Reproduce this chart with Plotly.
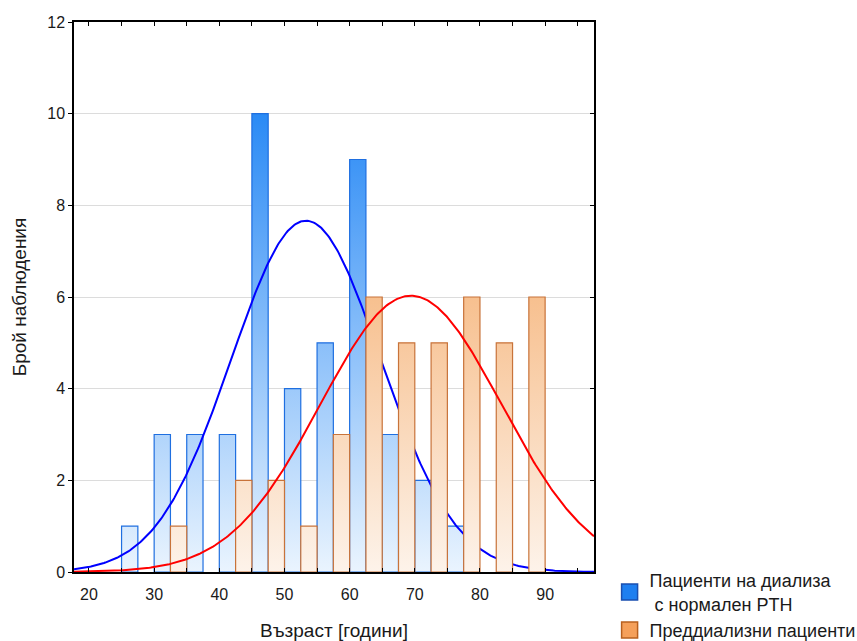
import numpy as np
import plotly.graph_objects as go

# ---- data ----
bin_starts = [20, 25, 30, 35, 40, 45, 50, 55, 60, 65, 70, 75, 80, 85]
blue_counts = [0, 1, 3, 3, 3, 10, 4, 5, 9, 3, 2, 1, 0, 0]
orange_counts = [0, 0, 1, 0, 2, 2, 1, 3, 6, 5, 5, 6, 5, 6]
bin_width = 5

blue_name = "Пациенти на диализа<br>\u00a0с нормален PTH"
orange_name = "Преддиализни пациенти"

# fitted normal curves (mean, sd)
blue_mean, blue_sd = 53.3, 11.45
orange_mean, orange_sd = 69.4, 13.9

x_range = [17.7, 97.5]
y_range = [0, 12]
x_ticks = [20, 30, 40, 50, 60, 70, 80, 90]
y_ticks = [0, 2, 4, 6, 8, 10, 12]


def bar_polys(starts, counts, offset, width):
    xs, ys = [], []
    for s, c in zip(starts, counts):
        if c <= 0:
            continue
        x0 = s + offset
        x1 = x0 + width
        xs += [x0, x0, x1, x1, x0, None]
        ys += [0, c, c, 0, 0, None]
    return xs, ys


def normal_curve(mean, sd, n, xs):
    return n * bin_width * np.exp(-0.5 * ((xs - mean) / sd) ** 2) / (sd * np.sqrt(2 * np.pi))


xc = np.linspace(x_range[0], x_range[1], 400)
n_blue = sum(blue_counts)
n_orange = sum(orange_counts)

fig = go.Figure()

# legend entries (box swatches)
fig.add_trace(go.Scatter(
    x=[None], y=[None], name=blue_name, mode="markers",
    marker=dict(symbol="square", size=18, color="#1e7ff0",
                line=dict(color="#1a4fb0", width=1.5)),
))
fig.add_trace(go.Scatter(
    x=[None], y=[None], name=orange_name, mode="markers",
    marker=dict(symbol="square", size=18, color="#f5a05a",
                line=dict(color="#b8601e", width=1.5)),
))

bx, by = bar_polys(bin_starts, blue_counts, 0, bin_width / 2)
fig.add_trace(go.Scatter(
    x=bx, y=by, mode="lines", fill="toself", name=blue_name, showlegend=False,
    line=dict(color="#1f6fe0", width=1.2),
    fillgradient=dict(type="vertical", start=0, stop=10,
                      colorscale=[[0, "#eaf4fe"], [1, "#2a8af5"]]),
    hoverinfo="skip",
))
fig.add_trace(go.Scatter(
    x=xc, y=normal_curve(blue_mean, blue_sd, n_blue, xc), mode="lines",
    line=dict(color="#0000ff", width=2), showlegend=False, hoverinfo="skip",
))
ox, oy = bar_polys(bin_starts, orange_counts, bin_width / 2, bin_width / 2)
fig.add_trace(go.Scatter(
    x=ox, y=oy, mode="lines", fill="toself", name=orange_name, showlegend=False,
    line=dict(color="#c8733a", width=1.2),
    fillgradient=dict(type="vertical", start=0, stop=6,
                      colorscale=[[0, "#fdf3ea"], [1, "#f7c08f"]]),
    hoverinfo="skip",
))
fig.add_trace(go.Scatter(
    x=xc, y=normal_curve(orange_mean, orange_sd, n_orange, xc), mode="lines",
    line=dict(color="#ff0000", width=2), showlegend=False, hoverinfo="skip",
    yaxis="y2",
))

font = dict(family="Liberation Sans, Arial, sans-serif", size=16, color="#1a1a1a")

fig.update_layout(
    width=857, height=641,
    margin=dict(l=74, r=263, t=22, b=69, autoexpand=False),
    paper_bgcolor="white", plot_bgcolor="white",
    font=font,
    showlegend=True,
    legend=dict(x=1.03, y=0.018, xanchor="left", yanchor="top",
                bgcolor="rgba(0,0,0,0)", font=dict(size=18),
                tracegroupgap=0, itemsizing="trace"),
    xaxis=dict(
        range=x_range, tickvals=x_ticks, ticks="inside", ticklen=4,
        tickcolor="black", showline=True, linecolor="black", linewidth=1.5,
        mirror="ticks", showgrid=False, zeroline=False, ticklabelstandoff=7,
        minor=dict(dtick=5, ticks="inside", ticklen=4, tickcolor="black"),
        title=dict(text="Възраст [години]", standoff=22),
    ),
    yaxis=dict(
        range=y_range, tickvals=y_ticks, ticks="outside", ticklen=4,
        tickcolor="black", showline=True, linecolor="black", linewidth=1.5,
        showgrid=True, gridcolor="#dcdcdc", gridwidth=1, zeroline=False,
        title=dict(text="Брой наблюдения", standoff=16),
    ),
    yaxis2=dict(
        range=y_range, tickvals=y_ticks, overlaying="y", side="right",
        ticks="inside", ticklen=4, tickcolor="black", showticklabels=False,
        showline=True, linecolor="black", linewidth=1.5, showgrid=False,
        zeroline=False,
    ),
)

fig.write_html("out.html")
